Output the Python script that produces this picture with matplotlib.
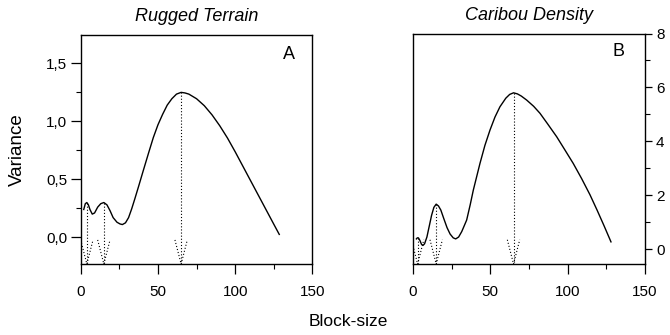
import numpy as np
import matplotlib.pyplot as plt
from matplotlib.ticker import MultipleLocator, FuncFormatter
import matplotlib.transforms as mtransforms

plt.rcParams['font.family'] = ['Liberation Sans', 'DejaVu Sans']

# panel A - rugged terrain variance vs block size
terrain_x = [2.0, 3.0, 4.0, 5.0, 6.0, 7.5, 9.0, 11.0, 13.0, 15.0, 17.0, 19.0,
             21.0, 23.5, 25.5, 27.0, 29.0, 31.0, 33.0, 35.0, 37.5, 40.5, 44.0,
             47.0, 50.0, 53.0, 56.0, 59.0, 62.0, 65.0, 67.5, 70.0, 75.0, 80.0,
             85.0, 90.0, 95.0, 100.0, 105.0, 110.0, 115.0, 120.0, 125.0, 128.5]
terrain_var = [0.24, 0.29, 0.30, 0.28, 0.24, 0.20, 0.21, 0.26, 0.29, 0.30, 0.28,
               0.23, 0.17, 0.13, 0.115, 0.11, 0.125, 0.17, 0.245, 0.33, 0.44,
               0.575, 0.73, 0.86, 0.97, 1.06, 1.14, 1.195, 1.235, 1.25, 1.245,
               1.235, 1.195, 1.135, 1.056, 0.962, 0.856, 0.737, 0.612, 0.487,
               0.362, 0.237, 0.112, 0.025]
terrain_peaks_x = [4, 15, 65]
terrain_peaks_y = [0.30, 0.30, 1.25]

# panel B - caribou density variance vs block size
caribou_x = [2.2, 2.8, 3.5, 4.5, 5.5, 6.5, 7.5, 9.0, 10.5, 12.0, 13.5, 15.0,
             16.5, 18.0, 20.0, 22.0, 24.0, 26.0, 27.6, 29.5, 31.5, 33.0, 34.7,
             37.0, 39.0, 43.3, 46.5, 49.8, 53.0, 56.2, 60.0, 62.5, 65.0, 67.5,
             70.0, 73.5, 78.0, 82.1, 87.0, 92.9, 98.0, 103.6, 109.0, 114.4,
             119.0, 123.5, 128.0]
caribou_var = [0.38, 0.42, 0.42, 0.32, 0.18, 0.14, 0.20, 0.45, 0.85, 1.25, 1.55,
               1.67, 1.60, 1.45, 1.12, 0.80, 0.56, 0.42, 0.38, 0.45, 0.65, 0.85,
               1.08, 1.65, 2.19, 3.18, 3.85, 4.42, 4.90, 5.28, 5.60, 5.74, 5.80,
               5.76, 5.68, 5.53, 5.30, 5.04, 4.65, 4.17, 3.70, 3.18, 2.62, 2.02,
               1.45, 0.87, 0.27]
caribou_peaks_x = [3, 15, 65]
caribou_peaks_y = [0.42, 1.67, 5.80]

fig = plt.figure(figsize=(6.7, 3.35), dpi=100)
axA = fig.add_axes([0.1204, 0.212, 0.346, 0.6836])
axB = fig.add_axes([0.6164, 0.212, 0.3463, 0.688])


def dotted_arrows(ax, xs, ys):
    trans = mtransforms.blended_transform_factory(ax.transData, ax.transAxes)
    ybot = ax.get_ylim()[0]
    for x, y in zip(xs, ys):
        ax.plot([x, x], [y, ybot], color='black', lw=0.8, ls=(0, (1, 1.8)))
        ax.plot([x - 4, x, x + 4], [0.105, 0.0, 0.105], transform=trans,
                color='black', lw=0.8, ls=(0, (1, 1.8)), clip_on=True)


for ax in (axA, axB):
    for s in ax.spines.values():
        s.set_linewidth(1.0)
    ax.set_xlim(0, 150)
    ax.xaxis.set_major_locator(MultipleLocator(50))
    ax.xaxis.set_minor_locator(MultipleLocator(25))
    ax.tick_params(axis='x', which='major', direction='out', length=7,
                   width=0.9, pad=8, labelsize=11)
    ax.tick_params(axis='x', which='minor', direction='out', length=3.5,
                   width=0.8)

# panel A
axA.set_ylim(-0.23, 1.745)
axA.plot(terrain_x, terrain_var, color='black', lw=1.0)
dotted_arrows(axA, terrain_peaks_x, terrain_peaks_y)
axA.yaxis.set_major_locator(MultipleLocator(0.5))
axA.yaxis.set_minor_locator(MultipleLocator(0.25))
axA.yaxis.set_major_formatter(FuncFormatter(lambda v, p: f"{v:.1f}".replace('.', ',')))
axA.tick_params(axis='y', which='major', direction='out', length=7.5,
                width=0.9, pad=2, labelsize=11)
axA.tick_params(axis='y', which='minor', direction='out', length=3.5, width=0.8)
axA.set_title("Rugged Terrain", style='italic', fontsize=13, pad=10)
axA.text(0.899, 0.914, "A", transform=axA.transAxes, fontsize=13,
         ha='center', va='center')
axA.set_ylabel("Variance", fontsize=13.5)
axA.yaxis.set_label_coords(-0.235, 0.5)

# panel B
axB.set_ylim(-0.55, 8.0)
axB.plot(caribou_x, caribou_var, color='black', lw=1.0)
dotted_arrows(axB, caribou_peaks_x, caribou_peaks_y)
axB.yaxis.tick_right()
axB.yaxis.set_major_locator(MultipleLocator(2))
axB.yaxis.set_minor_locator(MultipleLocator(1))
axB.tick_params(axis='y', which='major', direction='out', length=5,
                width=0.9, pad=3, labelsize=11)
axB.tick_params(axis='y', which='minor', direction='out', length=3.5, width=0.8)
axB.set_title("Caribou Density", style='italic', fontsize=13, pad=10)
axB.text(0.884, 0.922, "B", transform=axB.transAxes, fontsize=13,
         ha='center', va='center')

fig.text(0.52, 0.039, "Block-size", ha='center', va='center', fontsize=12.5)

fig.savefig("out.png", dpi=100)
